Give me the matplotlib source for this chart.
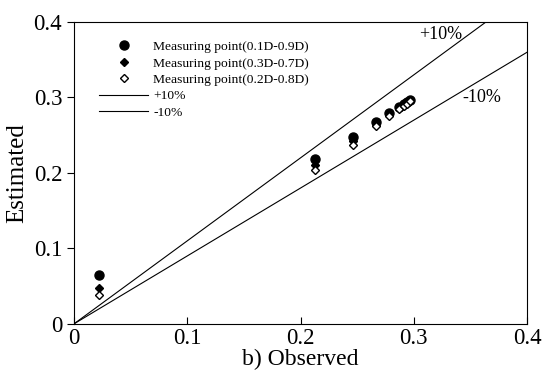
import matplotlib
matplotlib.use('Agg')
from matplotlib import pyplot as plt
import numpy as np

plt.rcParams['font.family'] = ['Liberation Serif', 'DejaVu Serif']

# Observed values (x) and the estimated values for each set of measuring points
observed = [0.022, 0.213, 0.246, 0.267, 0.278, 0.287, 0.291, 0.294, 0.297]
est_19 = [0.065, 0.218, 0.247, 0.268, 0.279, 0.287, 0.291, 0.294, 0.297]
est_37 = [0.048, 0.211, 0.242, 0.265, 0.277, 0.286, 0.290, 0.293, 0.296]
est_28 = [0.038, 0.204, 0.237, 0.262, 0.276, 0.285, 0.289, 0.292, 0.295]
labels = ['Measuring point(0.1D-0.9D)', 'Measuring point(0.3D-0.7D)',
          'Measuring point(0.2D-0.8D)']

fig = plt.figure(figsize=(5.44, 3.86), dpi=100)
ax = fig.add_axes([0.136, 0.161, 0.833, 0.782])

ax.plot(observed, est_19, 'o', color='black', markersize=6.5, label=labels[0])
ax.plot(observed, est_37, 'D', color='black', markersize=4.5, label=labels[1])
ax.plot(observed, est_28, 'D', markerfacecolor='white', markeredgecolor='black',
        markersize=4.5, markeredgewidth=1, label=labels[2])

# +/-10% lines
xl = np.array([0, 0.4])
ax.plot(xl, 1.1 * xl, color='black', linewidth=0.8, label='+10%')
ax.plot(xl, 0.9 * xl, color='black', linewidth=0.8, label='-10%')

ax.text(0.305, 0.383, '+10%', fontsize=13, va='center')
ax.text(0.343, 0.30, '-10%', fontsize=13, va='center')

ax.set_xlim(0, 0.4)
ax.set_ylim(0, 0.4)
ax.set_xticks([0, 0.1, 0.2, 0.3, 0.4])
ax.set_yticks([0, 0.1, 0.2, 0.3, 0.4])
ax.set_xticklabels(['0', '0.1', '0.2', '0.3', '0.4'])
ax.set_yticklabels(['0', '0.1', '0.2', '0.3', '0.4'])
ax.tick_params(axis='x', direction='in', labelsize=16.5, length=5, pad=3)
ax.tick_params(axis='y', direction='out', labelsize=16.5, length=5)
ax.set_xlabel('b) Observed', fontsize=17, labelpad=0)
ax.set_ylabel('Estimated', fontsize=18, labelpad=4)

ax.legend(loc='upper left', fontsize=9.7, frameon=False, handlelength=3.6,
          handletextpad=0.4, bbox_to_anchor=(0.038, 0.965), labelspacing=0.3,
          borderaxespad=0.2)

fig.savefig('out.png', dpi=100)
